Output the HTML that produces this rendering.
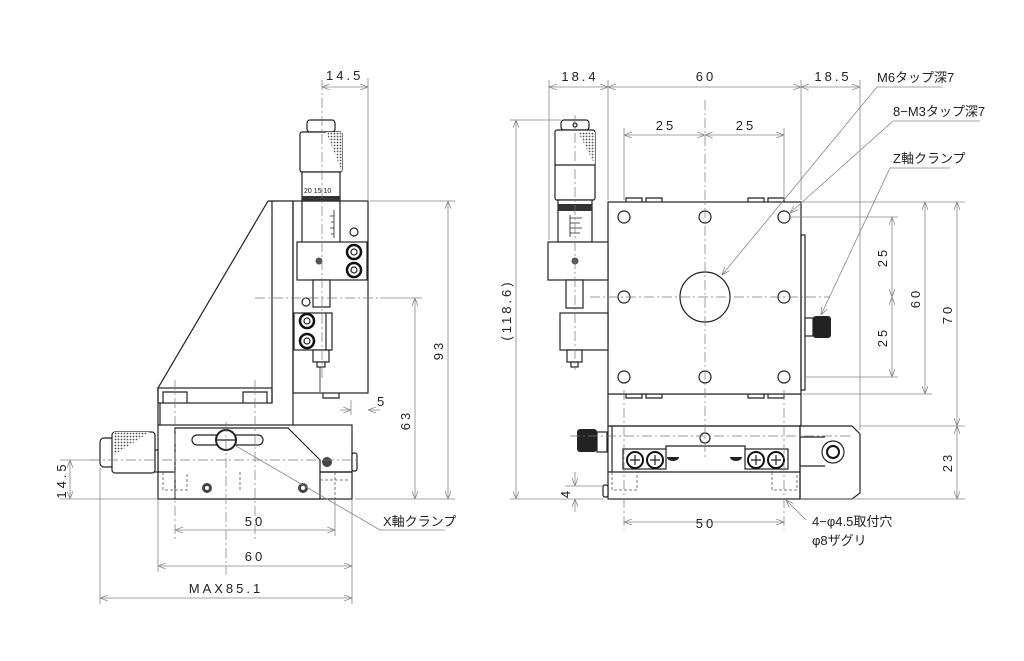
<!DOCTYPE html>
<html><head><meta charset="utf-8"><style>
html,body{margin:0;padding:0;background:#fff;}
svg{display:block;}
text{font-family:"Liberation Sans","Noto Sans CJK JP",sans-serif;font-size:13px;fill:#222;letter-spacing:3px;}
text.j{letter-spacing:0px;font-size:13px;}
.o{fill:none;stroke:#222;stroke-width:1.2;}
.w{fill:#fff;stroke:#222;stroke-width:1.2;}
.d{fill:none;stroke:#888;stroke-width:0.8;}
.c{fill:none;stroke:#777;stroke-width:0.7;stroke-dasharray:10 3 2 3;}
.h{fill:none;stroke:#555;stroke-width:0.8;stroke-dasharray:3 2;}
</style></head><body>
<svg width="1024" height="661" viewBox="0 0 1024 661" xmlns="http://www.w3.org/2000/svg">
<defs>
<pattern id="knurl" width="3" height="3" patternUnits="userSpaceOnUse"><rect width="3" height="3" fill="#fff"/><circle cx="1.5" cy="1.5" r="0.9" fill="#555"/></pattern>
<marker id="a" markerWidth="8" markerHeight="6" refX="8" refY="3" orient="auto-start-reverse" markerUnits="userSpaceOnUse"><path d="M0,0 L8,3 L0,6" fill="none" stroke="#888" stroke-width="0.8"/></marker>
</defs>

<!-- ============ LEFT VIEW ============ -->
<path class="o" d="M268,201 L158,388 L158,425"/>
<line class="o" x1="268" y1="201" x2="293" y2="201"/>
<line class="o" x1="272" y1="201" x2="272" y2="403"/>
<rect class="o" x="158" y="388" width="114" height="15"/>
<path class="o" d="M163,403 V392 H187 V403 M243,403 V392 H267 V403"/>
<line class="o" x1="160" y1="403" x2="160" y2="425"/>
<line class="o" x1="293" y1="201" x2="293" y2="425"/>
<rect class="o" x="293" y="201" width="75" height="192"/>
<path class="o" d="M323,393 v5 h16 v-5"/>
<rect class="w" x="307" y="120" width="28" height="12" rx="3"/>
<rect class="w" x="300" y="132" width="42" height="40" rx="2"/>
<path d="M326,132 H342 V172 Z" fill="url(#knurl)"/>
<rect class="w" x="302" y="172" width="38" height="29"/>
<rect x="302" y="196" width="38" height="5" fill="#333"/>
<text x="304" y="193" class="j" style="font-size:7px">20 15 10</text>
<line class="o" x1="302" y1="201" x2="302" y2="242"/>
<line class="o" x1="340" y1="201" x2="340" y2="242"/>
<path class="o" d="M334,210 v28 M330,216 h4 M331,222 h3 M330,228 h4 M331,234 h3" style="stroke-width:0.8"/>
<circle class="o" cx="354" cy="232" r="4"/>
<rect class="w" x="297" y="242" width="70" height="38"/>
<circle cx="354" cy="252" r="7" fill="#fff" stroke="#111" stroke-width="2.5"/><circle class="o" cx="354" cy="252" r="3"/>
<circle cx="354" cy="270" r="7" fill="#fff" stroke="#111" stroke-width="2.5"/><circle class="o" cx="354" cy="270" r="3"/>
<circle cx="319" cy="261" r="3.5" fill="#555"/>
<rect class="w" x="313" y="280" width="17" height="27"/>
<circle class="o" cx="306" cy="302" r="4"/>
<rect class="w" x="294" y="313" width="38" height="37"/>
<line class="o" x1="326" y1="313" x2="326" y2="350"/>
<circle cx="307" cy="321" r="7" fill="#fff" stroke="#111" stroke-width="2.5"/><circle class="o" cx="307" cy="321" r="3"/>
<circle cx="307" cy="341" r="7" fill="#fff" stroke="#111" stroke-width="2.5"/><circle class="o" cx="307" cy="341" r="3"/>
<rect class="w" x="313" y="350" width="16" height="12"/>
<rect class="w" x="317" y="362" width="8" height="5"/>
<line class="o" x1="320" y1="367" x2="320" y2="392" style="stroke-width:0.8"/>
<rect class="o" x="158" y="425" width="194" height="74"/>
<line class="o" x1="158" y1="472" x2="352" y2="472"/>
<path class="w" d="M175,499 V428 H288 L320,460 V499 Z"/>
<line class="o" x1="320" y1="472" x2="352" y2="472"/>
<path class="h" d="M163,472 V490 H187 V472 M240,472 V490 M320,480 H348 M335,472 V499"/>
<rect class="w" x="192" y="435" width="71" height="10" rx="5"/>
<circle class="w" cx="226" cy="440" r="10" style="stroke-width:2"/>
<line class="o" x1="216" y1="440" x2="236" y2="440"/>
<circle cx="327" cy="462" r="5" fill="#444"/>
<circle cx="207" cy="488" r="5" fill="#444"/><circle cx="207" cy="488" r="2" fill="#fff"/>
<circle cx="303" cy="488" r="5" fill="#444"/><circle cx="303" cy="488" r="2" fill="#fff"/>
<rect class="w" x="352" y="453" width="5" height="18" rx="2"/>
<rect class="w" x="152" y="450" width="6" height="22"/>
<rect class="w" x="100" y="438" width="14" height="29" rx="4"/>
<rect class="w" x="112" y="432" width="43" height="41" rx="3"/>
<path d="M114,432 H150 L114,455 Z" fill="url(#knurl)"/>
<line class="c" x1="322" y1="80" x2="322" y2="380"/>
<line class="c" x1="255" y1="298" x2="380" y2="298"/>
<line class="c" x1="226" y1="422" x2="226" y2="575"/>
<line class="c" x1="90" y1="460" x2="360" y2="460"/>
<line class="c" x1="175" y1="380" x2="175" y2="540"/>
<line class="c" x1="255" y1="380" x2="255" y2="540"/>
<line class="d" x1="368" y1="78" x2="368" y2="200"/>
<line class="d" x1="322" y1="87" x2="368" y2="87" marker-start="url(#a)" marker-end="url(#a)"/>
<text x="326" y="80">14.5</text>
<line class="d" x1="370" y1="201" x2="455" y2="201"/>
<line class="d" x1="355" y1="499" x2="455" y2="499"/>
<line class="d" x1="380" y1="298" x2="422" y2="298"/>
<line class="d" x1="448" y1="201" x2="448" y2="499" marker-start="url(#a)" marker-end="url(#a)"/>
<text transform="translate(443,350) rotate(-90)" text-anchor="middle">93</text>
<line class="d" x1="415" y1="298" x2="415" y2="499" marker-start="url(#a)" marker-end="url(#a)"/>
<text transform="translate(410,420) rotate(-90)" text-anchor="middle">63</text>
<line class="d" x1="351" y1="400" x2="351" y2="415"/>
<line class="d" x1="340" y1="410" x2="351" y2="410" marker-end="url(#a)"/>
<line class="d" x1="380" y1="410" x2="368" y2="410" marker-end="url(#a)"/>
<text x="377" y="406">5</text>
<line class="d" x1="60" y1="460" x2="100" y2="460"/>
<line class="d" x1="60" y1="499" x2="158" y2="499"/>
<line class="d" x1="70" y1="460" x2="70" y2="499" marker-start="url(#a)" marker-end="url(#a)"/>
<text transform="translate(66,480) rotate(-90)" text-anchor="middle">14.5</text>
<line class="d" x1="158" y1="499" x2="158" y2="572"/>
<line class="d" x1="352" y1="499" x2="352" y2="604"/>
<line class="d" x1="335" y1="499" x2="335" y2="536"/>
<line class="d" x1="100" y1="468" x2="100" y2="604"/>
<line class="d" x1="175" y1="530" x2="335" y2="530" marker-start="url(#a)" marker-end="url(#a)"/>
<text x="255" y="526" text-anchor="middle">50</text>
<line class="d" x1="158" y1="566" x2="352" y2="566" marker-start="url(#a)" marker-end="url(#a)"/>
<text x="255" y="561" text-anchor="middle">60</text>
<line class="d" x1="100" y1="598" x2="352" y2="598" marker-start="url(#a)" marker-end="url(#a)"/>
<text x="226" y="593" text-anchor="middle">MAX85.1</text>
<line class="d" x1="236" y1="446" x2="380" y2="530"/>
<line class="d" x1="380" y1="530" x2="445" y2="530"/>
<text x="383" y="526" class="j">X軸クランプ</text>

<!-- ============ RIGHT VIEW ============ -->
<rect class="o" x="608" y="394" width="193" height="32"/>
<rect class="w" x="608" y="202" width="193" height="192"/>
<path class="o" d="M626,202 v-4 h16 v4 M646,202 v-4 h16 v4 M748,202 v-4 h16 v4 M768,202 v-4 h16 v4"/>
<path class="o" d="M626,394 v4 h16 v-4 M646,394 v4 h16 v-4 M748,394 v4 h16 v-4 M768,394 v4 h16 v-4"/>
<rect class="o" x="801" y="235" width="4" height="155"/>
<circle class="o" cx="624" cy="217" r="6"/><circle class="o" cx="705" cy="217" r="6"/><circle class="o" cx="784" cy="217" r="6"/>
<circle class="o" cx="624" cy="297" r="6"/><circle class="o" cx="784" cy="297" r="6"/>
<circle class="o" cx="624" cy="377" r="6"/><circle class="o" cx="705" cy="377" r="6"/><circle class="o" cx="784" cy="377" r="6"/>
<circle class="o" cx="705" cy="297" r="25"/>
<rect class="w" x="805" y="318" width="8" height="18"/>
<rect x="813" y="316" width="18" height="22" rx="3" fill="#222"/>
<rect class="w" x="561" y="120" width="28" height="10" rx="3"/>
<circle class="o" cx="575" cy="125" r="2"/>
<rect class="w" x="555" y="130" width="40" height="70" rx="2"/>
<path d="M578,132 H595 V165 Z" fill="url(#knurl)"/>
<line class="o" x1="555" y1="165" x2="595" y2="165"/>
<rect class="w" x="558" y="200" width="34" height="42"/>
<rect x="558" y="204" width="34" height="7" fill="#333"/>
<path class="o" d="M570,215 v22 M570,218 h12 M570,223 h10 M570,228 h12 M570,233 h10" style="stroke-width:0.8"/>
<rect class="w" x="548" y="242" width="60" height="38"/>
<circle cx="575" cy="261" r="3.5" fill="#555"/>
<rect class="w" x="566" y="280" width="17" height="28"/>
<rect class="w" x="560" y="313" width="48" height="37"/>
<rect class="w" x="567" y="350" width="15" height="12"/>
<rect class="w" x="571" y="362" width="7" height="5"/>
<path class="w" d="M800,426 H852 L860,434 V493 L852,499 H800 Z"/>
<circle class="w" cx="833" cy="452" r="11"/>
<circle cx="833" cy="452" r="6" fill="#fff" stroke="#111" stroke-width="2"/>
<line class="o" x1="800" y1="437" x2="825" y2="437"/>
<line class="o" x1="800" y1="466" x2="825" y2="466"/>
<rect class="o" x="608" y="426" width="192" height="73"/>
<line class="o" x1="608" y1="472" x2="800" y2="472"/>
<line class="o" x1="612" y1="426" x2="612" y2="472"/>
<rect class="w" x="623" y="449" width="43" height="20"/>
<rect class="w" x="745" y="449" width="43" height="20"/>
<path class="o" d="M666,449 V446 H745 V449"/>
<circle cx="635" cy="460" r="8" fill="#fff" stroke="#111" stroke-width="2"/><path class="o" d="M630,460 h10 M635,455 v10"/>
<circle cx="655" cy="460" r="8" fill="#fff" stroke="#111" stroke-width="2"/><path class="o" d="M650,460 h10 M655,455 v10"/>
<circle cx="756" cy="460" r="8" fill="#fff" stroke="#111" stroke-width="2"/><path class="o" d="M751,460 h10 M756,455 v10"/>
<circle cx="776" cy="460" r="8" fill="#fff" stroke="#111" stroke-width="2"/><path class="o" d="M771,460 h10 M776,455 v10"/>
<path d="M667,457 h12 a6,4 0 0 1 -12,0 Z" fill="#222"/>
<path d="M730,457 h12 a6,4 0 0 1 -12,0 Z" fill="#222"/>
<circle class="o" cx="705" cy="438" r="5"/>
<path class="h" d="M612,472 V490 H637 V472 M772,472 V490 H797 V472"/>
<rect class="w" x="603" y="485" width="5" height="12" rx="2"/>
<rect class="w" x="597" y="432" width="10" height="20"/>
<rect x="577" y="429" width="20" height="23" rx="3" fill="#222"/>
<line class="c" x1="705" y1="100" x2="705" y2="460"/>
<line class="c" x1="590" y1="297" x2="830" y2="297"/>
<line class="c" x1="575" y1="115" x2="575" y2="370"/>
<line class="c" x1="624" y1="390" x2="624" y2="530"/>
<line class="c" x1="784" y1="390" x2="784" y2="530"/>
<line class="c" x1="570" y1="436" x2="850" y2="436"/>
<line class="d" x1="549" y1="80" x2="549" y2="240"/>
<line class="d" x1="608" y1="80" x2="608" y2="200"/>
<line class="d" x1="801" y1="80" x2="801" y2="200"/>
<line class="d" x1="860" y1="80" x2="860" y2="430"/>
<line class="d" x1="549" y1="87" x2="608" y2="87" marker-start="url(#a)" marker-end="url(#a)"/>
<line class="d" x1="608" y1="87" x2="801" y2="87" marker-start="url(#a)" marker-end="url(#a)"/>
<line class="d" x1="801" y1="87" x2="860" y2="87" marker-start="url(#a)" marker-end="url(#a)"/>
<text x="580" y="81" text-anchor="middle">18.4</text>
<text x="706" y="81" text-anchor="middle">60</text>
<text x="833" y="81" text-anchor="middle">18.5</text>
<line class="d" x1="624" y1="128" x2="624" y2="200"/>
<line class="d" x1="784" y1="128" x2="784" y2="200"/>
<line class="d" x1="624" y1="135" x2="705" y2="135" marker-start="url(#a)" marker-end="url(#a)"/>
<line class="d" x1="705" y1="135" x2="784" y2="135" marker-start="url(#a)" marker-end="url(#a)"/>
<text x="666" y="130" text-anchor="middle">25</text>
<text x="746" y="130" text-anchor="middle">25</text>
<line class="d" x1="790" y1="217" x2="898" y2="217"/>
<line class="d" x1="805" y1="377" x2="898" y2="377"/>
<line class="d" x1="803" y1="202" x2="965" y2="202"/>
<line class="d" x1="803" y1="394" x2="932" y2="394"/>
<line class="d" x1="860" y1="426" x2="965" y2="426"/>
<line class="d" x1="800" y1="499" x2="965" y2="499"/>
<line class="d" x1="892" y1="217" x2="892" y2="297" marker-start="url(#a)" marker-end="url(#a)"/>
<line class="d" x1="892" y1="297" x2="892" y2="377" marker-start="url(#a)" marker-end="url(#a)"/>
<text transform="translate(887,257) rotate(-90)" text-anchor="middle">25</text>
<text transform="translate(887,337) rotate(-90)" text-anchor="middle">25</text>
<line class="d" x1="925" y1="202" x2="925" y2="394" marker-start="url(#a)" marker-end="url(#a)"/>
<text transform="translate(920,298) rotate(-90)" text-anchor="middle">60</text>
<line class="d" x1="957" y1="202" x2="957" y2="426" marker-start="url(#a)" marker-end="url(#a)"/>
<text transform="translate(952,314) rotate(-90)" text-anchor="middle">70</text>
<line class="d" x1="957" y1="426" x2="957" y2="499" marker-start="url(#a)" marker-end="url(#a)"/>
<text transform="translate(952,462) rotate(-90)" text-anchor="middle">23</text>
<line class="d" x1="510" y1="120" x2="561" y2="120"/>
<line class="d" x1="510" y1="499" x2="603" y2="499"/>
<line class="d" x1="516" y1="120" x2="516" y2="499" marker-start="url(#a)" marker-end="url(#a)"/>
<text transform="translate(511,310) rotate(-90)" text-anchor="middle">(118.6)</text>
<line class="d" x1="565" y1="486" x2="603" y2="486"/>
<line class="d" x1="575" y1="472" x2="575" y2="486" marker-end="url(#a)"/>
<line class="d" x1="575" y1="512" x2="575" y2="499" marker-end="url(#a)"/>
<text transform="translate(570,493) rotate(-90)" text-anchor="middle">4</text>
<line class="d" x1="624" y1="522" x2="784" y2="522" marker-start="url(#a)" marker-end="url(#a)"/>
<text x="706" y="528" text-anchor="middle">50</text>
<line class="d" x1="877" y1="87" x2="722" y2="275" marker-end="url(#a)"/>
<line class="d" x1="877" y1="87" x2="943" y2="87"/>
<text x="877" y="82" class="j">M6タップ深7</text>
<line class="d" x1="893" y1="121" x2="790" y2="213" marker-end="url(#a)"/>
<line class="d" x1="893" y1="121" x2="980" y2="121"/>
<text x="893" y="116" class="j">8−M3タップ深7</text>
<line class="d" x1="890" y1="168" x2="821" y2="315" marker-end="url(#a)"/>
<line class="d" x1="890" y1="168" x2="950" y2="168"/>
<text x="893" y="163" class="j">Z軸クランプ</text>
<line class="d" x1="806" y1="520" x2="786" y2="500" marker-end="url(#a)"/>
<text x="812" y="526" class="j">4−φ4.5取付穴</text>
<text x="812" y="545" class="j">φ8ザグリ</text>
</svg>
</body></html>
